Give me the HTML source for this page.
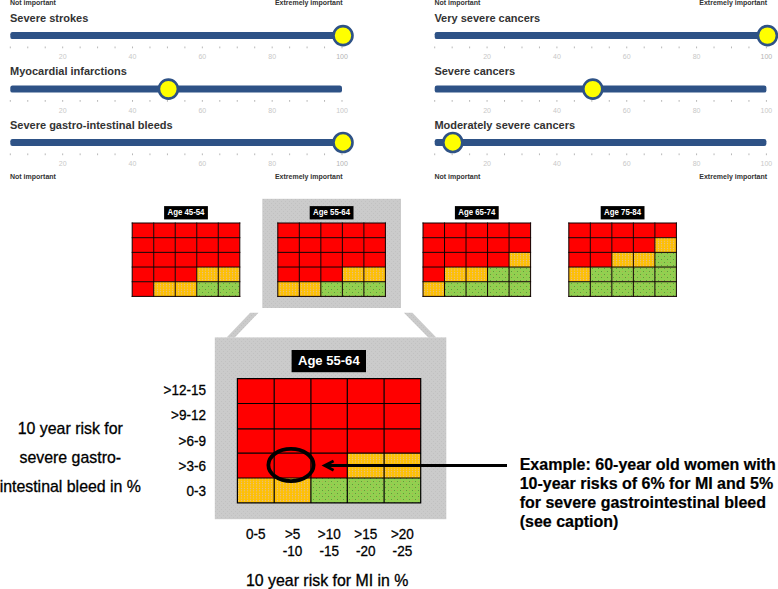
<!DOCTYPE html>
<html><head><meta charset="utf-8"><title>Figure</title>
<style>
html,body{margin:0;padding:0;background:#fff;}
body{width:778px;height:589px;overflow:hidden;font-family:"Liberation Sans",sans-serif;}
svg{display:block;font-family:"Liberation Sans",sans-serif;}
.lab{font-size:11px;font-weight:bold;fill:#333;}
.imp{font-size:7px;font-weight:bold;fill:#333;}
.tk{font-size:7px;fill:#c8c8c8;text-anchor:middle;}
.age{font-size:8.7px;font-weight:bold;fill:#fff;text-anchor:middle;}
.ageb{font-size:13.6px;font-weight:bold;fill:#fff;text-anchor:middle;}
.ax{font-size:14.4px;fill:#000;stroke:#000;stroke-width:0.3px;}
.t16{font-size:15.9px;fill:#000;stroke:#000;stroke-width:0.3px;}
.ex{font-size:16px;font-weight:bold;fill:#000;stroke:#000;stroke-width:0.2px;}
</style></head><body>
<svg width="778" height="589" viewBox="0 0 778 589">
<defs>
<pattern id="pO" width="3" height="2.4" patternUnits="userSpaceOnUse"><rect width="3" height="2.4" fill="#FFC000"/><rect x="0.9" y="0.7" width="1.2" height="1.1" fill="#e2bd98"/></pattern>
<pattern id="pOb" width="3" height="2.4" patternUnits="userSpaceOnUse"><rect width="3" height="2.4" fill="#FFC000"/><rect x="1" y="0.8" width="1" height="0.9" fill="#e6c692"/></pattern>
<pattern id="pG" width="6" height="6" patternUnits="userSpaceOnUse"><rect width="6" height="6" fill="#92D050"/><rect x="1" y="1" width="1" height="1" fill="#5f9a3a"/><rect x="4" y="4" width="1" height="1" fill="#5f9a3a"/><rect x="4" y="1" width="1" height="1" fill="#b0b050"/><rect x="1" y="4" width="1" height="1" fill="#b0b050"/></pattern>
<pattern id="pY" width="4" height="4" patternUnits="userSpaceOnUse"><rect width="4" height="4" fill="#cbcbcb"/><rect x="1" y="1" width="1" height="1" fill="#c1c1c1"/><rect x="3" y="3" width="1" height="1" fill="#c1c1c1"/></pattern>
</defs>
<rect width="778" height="589" fill="#fff"/>

<text class="lab" x="10.0" y="21.8">Severe strokes</text>
<rect x="10.3" y="32.1" width="331.7" height="7" rx="2.2" fill="#2e5286"/>
<rect x="9.80" y="46.5" width="1" height="1.8" fill="#b8b8b8"/>
<rect x="27.26" y="46.5" width="1" height="1.8" fill="#b8b8b8"/>
<rect x="44.72" y="46.5" width="1" height="1.8" fill="#b8b8b8"/>
<rect x="62.17" y="46.5" width="1" height="1.8" fill="#b8b8b8"/>
<rect x="79.63" y="46.5" width="1" height="1.8" fill="#b8b8b8"/>
<rect x="97.09" y="46.5" width="1" height="1.8" fill="#b8b8b8"/>
<rect x="114.55" y="46.5" width="1" height="1.8" fill="#b8b8b8"/>
<rect x="132.01" y="46.5" width="1" height="1.8" fill="#b8b8b8"/>
<rect x="149.46" y="46.5" width="1" height="1.8" fill="#b8b8b8"/>
<rect x="166.92" y="46.5" width="1" height="1.8" fill="#b8b8b8"/>
<rect x="184.38" y="46.5" width="1" height="1.8" fill="#b8b8b8"/>
<rect x="201.84" y="46.5" width="1" height="1.8" fill="#b8b8b8"/>
<rect x="219.29" y="46.5" width="1" height="1.8" fill="#b8b8b8"/>
<rect x="236.75" y="46.5" width="1" height="1.8" fill="#b8b8b8"/>
<rect x="254.21" y="46.5" width="1" height="1.8" fill="#b8b8b8"/>
<rect x="271.67" y="46.5" width="1" height="1.8" fill="#b8b8b8"/>
<rect x="289.13" y="46.5" width="1" height="1.8" fill="#b8b8b8"/>
<rect x="306.58" y="46.5" width="1" height="1.8" fill="#b8b8b8"/>
<rect x="324.04" y="46.5" width="1" height="1.8" fill="#b8b8b8"/>
<rect x="341.50" y="46.5" width="1" height="1.8" fill="#b8b8b8"/>
<text class="tk" x="62.7" y="59.2">20</text>
<text class="tk" x="132.5" y="59.2">40</text>
<text class="tk" x="202.3" y="59.2">60</text>
<text class="tk" x="272.2" y="59.2">80</text>
<text class="tk" x="342.0" y="59.2" style="fill:#b4b4b4">100</text>
<circle cx="343.0" cy="35.6" r="9.5" fill="#ffff00" stroke="#2e5286" stroke-width="2.6"/>
<text class="lab" x="10.0" y="75.3">Myocardial infarctions</text>
<rect x="10.3" y="85.6" width="331.7" height="7" rx="2.2" fill="#2e5286"/>
<rect x="9.80" y="100.0" width="1" height="1.8" fill="#b8b8b8"/>
<rect x="27.26" y="100.0" width="1" height="1.8" fill="#b8b8b8"/>
<rect x="44.72" y="100.0" width="1" height="1.8" fill="#b8b8b8"/>
<rect x="62.17" y="100.0" width="1" height="1.8" fill="#b8b8b8"/>
<rect x="79.63" y="100.0" width="1" height="1.8" fill="#b8b8b8"/>
<rect x="97.09" y="100.0" width="1" height="1.8" fill="#b8b8b8"/>
<rect x="114.55" y="100.0" width="1" height="1.8" fill="#b8b8b8"/>
<rect x="132.01" y="100.0" width="1" height="1.8" fill="#b8b8b8"/>
<rect x="149.46" y="100.0" width="1" height="1.8" fill="#b8b8b8"/>
<rect x="166.92" y="100.0" width="1" height="1.8" fill="#b8b8b8"/>
<rect x="184.38" y="100.0" width="1" height="1.8" fill="#b8b8b8"/>
<rect x="201.84" y="100.0" width="1" height="1.8" fill="#b8b8b8"/>
<rect x="219.29" y="100.0" width="1" height="1.8" fill="#b8b8b8"/>
<rect x="236.75" y="100.0" width="1" height="1.8" fill="#b8b8b8"/>
<rect x="254.21" y="100.0" width="1" height="1.8" fill="#b8b8b8"/>
<rect x="271.67" y="100.0" width="1" height="1.8" fill="#b8b8b8"/>
<rect x="289.13" y="100.0" width="1" height="1.8" fill="#b8b8b8"/>
<rect x="306.58" y="100.0" width="1" height="1.8" fill="#b8b8b8"/>
<rect x="324.04" y="100.0" width="1" height="1.8" fill="#b8b8b8"/>
<rect x="341.50" y="100.0" width="1" height="1.8" fill="#b8b8b8"/>
<text class="tk" x="62.7" y="112.7">20</text>
<text class="tk" x="132.5" y="112.7">40</text>
<text class="tk" x="202.3" y="112.7">60</text>
<text class="tk" x="272.2" y="112.7">80</text>
<text class="tk" x="342.0" y="112.7">100</text>
<circle cx="168.4" cy="89.1" r="9.5" fill="#ffff00" stroke="#2e5286" stroke-width="2.6"/>
<text class="lab" x="10.0" y="128.7">Severe gastro-intestinal bleeds</text>
<rect x="10.3" y="139.0" width="331.7" height="7" rx="2.2" fill="#2e5286"/>
<rect x="9.80" y="153.4" width="1" height="1.8" fill="#b8b8b8"/>
<rect x="27.26" y="153.4" width="1" height="1.8" fill="#b8b8b8"/>
<rect x="44.72" y="153.4" width="1" height="1.8" fill="#b8b8b8"/>
<rect x="62.17" y="153.4" width="1" height="1.8" fill="#b8b8b8"/>
<rect x="79.63" y="153.4" width="1" height="1.8" fill="#b8b8b8"/>
<rect x="97.09" y="153.4" width="1" height="1.8" fill="#b8b8b8"/>
<rect x="114.55" y="153.4" width="1" height="1.8" fill="#b8b8b8"/>
<rect x="132.01" y="153.4" width="1" height="1.8" fill="#b8b8b8"/>
<rect x="149.46" y="153.4" width="1" height="1.8" fill="#b8b8b8"/>
<rect x="166.92" y="153.4" width="1" height="1.8" fill="#b8b8b8"/>
<rect x="184.38" y="153.4" width="1" height="1.8" fill="#b8b8b8"/>
<rect x="201.84" y="153.4" width="1" height="1.8" fill="#b8b8b8"/>
<rect x="219.29" y="153.4" width="1" height="1.8" fill="#b8b8b8"/>
<rect x="236.75" y="153.4" width="1" height="1.8" fill="#b8b8b8"/>
<rect x="254.21" y="153.4" width="1" height="1.8" fill="#b8b8b8"/>
<rect x="271.67" y="153.4" width="1" height="1.8" fill="#b8b8b8"/>
<rect x="289.13" y="153.4" width="1" height="1.8" fill="#b8b8b8"/>
<rect x="306.58" y="153.4" width="1" height="1.8" fill="#b8b8b8"/>
<rect x="324.04" y="153.4" width="1" height="1.8" fill="#b8b8b8"/>
<rect x="341.50" y="153.4" width="1" height="1.8" fill="#b8b8b8"/>
<text class="tk" x="62.7" y="166.1">20</text>
<text class="tk" x="132.5" y="166.1">40</text>
<text class="tk" x="202.3" y="166.1">60</text>
<text class="tk" x="272.2" y="166.1">80</text>
<text class="tk" x="342.0" y="166.1" style="fill:#b4b4b4">100</text>
<circle cx="343.0" cy="142.5" r="9.5" fill="#ffff00" stroke="#2e5286" stroke-width="2.6"/>
<text class="imp" x="10.0" y="4.6">Not important</text>
<text class="imp" x="342.6" y="4.6" text-anchor="end">Extremely important</text>
<text class="imp" x="10.0" y="178.9">Not important</text>
<text class="imp" x="342.6" y="178.9" text-anchor="end">Extremely important</text>
<text class="lab" x="434.4" y="21.8">Very severe cancers</text>
<rect x="434.7" y="32.1" width="331.7" height="7" rx="2.2" fill="#2e5286"/>
<rect x="434.20" y="46.5" width="1" height="1.8" fill="#b8b8b8"/>
<rect x="451.66" y="46.5" width="1" height="1.8" fill="#b8b8b8"/>
<rect x="469.12" y="46.5" width="1" height="1.8" fill="#b8b8b8"/>
<rect x="486.57" y="46.5" width="1" height="1.8" fill="#b8b8b8"/>
<rect x="504.03" y="46.5" width="1" height="1.8" fill="#b8b8b8"/>
<rect x="521.49" y="46.5" width="1" height="1.8" fill="#b8b8b8"/>
<rect x="538.95" y="46.5" width="1" height="1.8" fill="#b8b8b8"/>
<rect x="556.41" y="46.5" width="1" height="1.8" fill="#b8b8b8"/>
<rect x="573.86" y="46.5" width="1" height="1.8" fill="#b8b8b8"/>
<rect x="591.32" y="46.5" width="1" height="1.8" fill="#b8b8b8"/>
<rect x="608.78" y="46.5" width="1" height="1.8" fill="#b8b8b8"/>
<rect x="626.24" y="46.5" width="1" height="1.8" fill="#b8b8b8"/>
<rect x="643.69" y="46.5" width="1" height="1.8" fill="#b8b8b8"/>
<rect x="661.15" y="46.5" width="1" height="1.8" fill="#b8b8b8"/>
<rect x="678.61" y="46.5" width="1" height="1.8" fill="#b8b8b8"/>
<rect x="696.07" y="46.5" width="1" height="1.8" fill="#b8b8b8"/>
<rect x="713.53" y="46.5" width="1" height="1.8" fill="#b8b8b8"/>
<rect x="730.98" y="46.5" width="1" height="1.8" fill="#b8b8b8"/>
<rect x="748.44" y="46.5" width="1" height="1.8" fill="#b8b8b8"/>
<rect x="765.90" y="46.5" width="1" height="1.8" fill="#b8b8b8"/>
<text class="tk" x="487.1" y="59.2">20</text>
<text class="tk" x="556.9" y="59.2">40</text>
<text class="tk" x="626.7" y="59.2">60</text>
<text class="tk" x="696.6" y="59.2">80</text>
<text class="tk" x="766.4" y="59.2" style="fill:#b4b4b4">100</text>
<circle cx="767.4" cy="35.6" r="9.5" fill="#ffff00" stroke="#2e5286" stroke-width="2.6"/>
<text class="lab" x="434.4" y="75.3">Severe cancers</text>
<rect x="434.7" y="85.6" width="331.7" height="7" rx="2.2" fill="#2e5286"/>
<rect x="434.20" y="100.0" width="1" height="1.8" fill="#b8b8b8"/>
<rect x="451.66" y="100.0" width="1" height="1.8" fill="#b8b8b8"/>
<rect x="469.12" y="100.0" width="1" height="1.8" fill="#b8b8b8"/>
<rect x="486.57" y="100.0" width="1" height="1.8" fill="#b8b8b8"/>
<rect x="504.03" y="100.0" width="1" height="1.8" fill="#b8b8b8"/>
<rect x="521.49" y="100.0" width="1" height="1.8" fill="#b8b8b8"/>
<rect x="538.95" y="100.0" width="1" height="1.8" fill="#b8b8b8"/>
<rect x="556.41" y="100.0" width="1" height="1.8" fill="#b8b8b8"/>
<rect x="573.86" y="100.0" width="1" height="1.8" fill="#b8b8b8"/>
<rect x="591.32" y="100.0" width="1" height="1.8" fill="#b8b8b8"/>
<rect x="608.78" y="100.0" width="1" height="1.8" fill="#b8b8b8"/>
<rect x="626.24" y="100.0" width="1" height="1.8" fill="#b8b8b8"/>
<rect x="643.69" y="100.0" width="1" height="1.8" fill="#b8b8b8"/>
<rect x="661.15" y="100.0" width="1" height="1.8" fill="#b8b8b8"/>
<rect x="678.61" y="100.0" width="1" height="1.8" fill="#b8b8b8"/>
<rect x="696.07" y="100.0" width="1" height="1.8" fill="#b8b8b8"/>
<rect x="713.53" y="100.0" width="1" height="1.8" fill="#b8b8b8"/>
<rect x="730.98" y="100.0" width="1" height="1.8" fill="#b8b8b8"/>
<rect x="748.44" y="100.0" width="1" height="1.8" fill="#b8b8b8"/>
<rect x="765.90" y="100.0" width="1" height="1.8" fill="#b8b8b8"/>
<text class="tk" x="487.1" y="112.7">20</text>
<text class="tk" x="556.9" y="112.7">40</text>
<text class="tk" x="626.7" y="112.7">60</text>
<text class="tk" x="696.6" y="112.7">80</text>
<text class="tk" x="766.4" y="112.7">100</text>
<circle cx="592.8" cy="89.1" r="9.5" fill="#ffff00" stroke="#2e5286" stroke-width="2.6"/>
<text class="lab" x="434.4" y="128.7">Moderately severe cancers</text>
<rect x="434.7" y="139.0" width="331.7" height="7" rx="2.2" fill="#2e5286"/>
<rect x="434.20" y="153.4" width="1" height="1.8" fill="#b8b8b8"/>
<rect x="451.66" y="153.4" width="1" height="1.8" fill="#b8b8b8"/>
<rect x="469.12" y="153.4" width="1" height="1.8" fill="#b8b8b8"/>
<rect x="486.57" y="153.4" width="1" height="1.8" fill="#b8b8b8"/>
<rect x="504.03" y="153.4" width="1" height="1.8" fill="#b8b8b8"/>
<rect x="521.49" y="153.4" width="1" height="1.8" fill="#b8b8b8"/>
<rect x="538.95" y="153.4" width="1" height="1.8" fill="#b8b8b8"/>
<rect x="556.41" y="153.4" width="1" height="1.8" fill="#b8b8b8"/>
<rect x="573.86" y="153.4" width="1" height="1.8" fill="#b8b8b8"/>
<rect x="591.32" y="153.4" width="1" height="1.8" fill="#b8b8b8"/>
<rect x="608.78" y="153.4" width="1" height="1.8" fill="#b8b8b8"/>
<rect x="626.24" y="153.4" width="1" height="1.8" fill="#b8b8b8"/>
<rect x="643.69" y="153.4" width="1" height="1.8" fill="#b8b8b8"/>
<rect x="661.15" y="153.4" width="1" height="1.8" fill="#b8b8b8"/>
<rect x="678.61" y="153.4" width="1" height="1.8" fill="#b8b8b8"/>
<rect x="696.07" y="153.4" width="1" height="1.8" fill="#b8b8b8"/>
<rect x="713.53" y="153.4" width="1" height="1.8" fill="#b8b8b8"/>
<rect x="730.98" y="153.4" width="1" height="1.8" fill="#b8b8b8"/>
<rect x="748.44" y="153.4" width="1" height="1.8" fill="#b8b8b8"/>
<rect x="765.90" y="153.4" width="1" height="1.8" fill="#b8b8b8"/>
<text class="tk" x="487.1" y="166.1">20</text>
<text class="tk" x="556.9" y="166.1">40</text>
<text class="tk" x="626.7" y="166.1">60</text>
<text class="tk" x="696.6" y="166.1">80</text>
<text class="tk" x="766.4" y="166.1">100</text>
<circle cx="452.8" cy="142.5" r="9.5" fill="#ffff00" stroke="#2e5286" stroke-width="2.6"/>
<text class="imp" x="434.4" y="4.6">Not important</text>
<text class="imp" x="767.0" y="4.6" text-anchor="end">Extremely important</text>
<text class="imp" x="434.4" y="178.9">Not important</text>
<text class="imp" x="767.0" y="178.9" text-anchor="end">Extremely important</text>
<rect x="262.3" y="198.8" width="138.7" height="109.2" fill="url(#pY)"/>
<rect x="214.8" y="337.4" width="231.5" height="181.8" fill="url(#pY)"/>
<polygon points="250.2,312.7 258.5,312.7 234.8,337.6 226.6,337.6" fill="url(#pY)"/>
<polygon points="403.9,312.7 412.4,312.7 436.3,337.6 428.3,337.6" fill="url(#pY)"/>
<rect x="132.20" y="223.00" width="21.52" height="14.68" fill="#FF0000"/>
<rect x="153.72" y="223.00" width="21.52" height="14.68" fill="#FF0000"/>
<rect x="175.24" y="223.00" width="21.52" height="14.68" fill="#FF0000"/>
<rect x="196.76" y="223.00" width="21.52" height="14.68" fill="#FF0000"/>
<rect x="218.28" y="223.00" width="21.52" height="14.68" fill="#FF0000"/>
<rect x="132.20" y="237.68" width="21.52" height="14.68" fill="#FF0000"/>
<rect x="153.72" y="237.68" width="21.52" height="14.68" fill="#FF0000"/>
<rect x="175.24" y="237.68" width="21.52" height="14.68" fill="#FF0000"/>
<rect x="196.76" y="237.68" width="21.52" height="14.68" fill="#FF0000"/>
<rect x="218.28" y="237.68" width="21.52" height="14.68" fill="#FF0000"/>
<rect x="132.20" y="252.36" width="21.52" height="14.68" fill="#FF0000"/>
<rect x="153.72" y="252.36" width="21.52" height="14.68" fill="#FF0000"/>
<rect x="175.24" y="252.36" width="21.52" height="14.68" fill="#FF0000"/>
<rect x="196.76" y="252.36" width="21.52" height="14.68" fill="#FF0000"/>
<rect x="218.28" y="252.36" width="21.52" height="14.68" fill="#FF0000"/>
<rect x="132.20" y="267.04" width="21.52" height="14.68" fill="#FF0000"/>
<rect x="153.72" y="267.04" width="21.52" height="14.68" fill="#FF0000"/>
<rect x="175.24" y="267.04" width="21.52" height="14.68" fill="#FF0000"/>
<rect x="196.76" y="267.04" width="21.52" height="14.68" fill="url(#pO)"/>
<rect x="218.28" y="267.04" width="21.52" height="14.68" fill="url(#pO)"/>
<rect x="132.20" y="281.72" width="21.52" height="14.68" fill="#FF0000"/>
<rect x="153.72" y="281.72" width="21.52" height="14.68" fill="url(#pO)"/>
<rect x="175.24" y="281.72" width="21.52" height="14.68" fill="url(#pO)"/>
<rect x="196.76" y="281.72" width="21.52" height="14.68" fill="url(#pG)"/>
<rect x="218.28" y="281.72" width="21.52" height="14.68" fill="url(#pG)"/>
<path d="M132.20,223.00V296.40M132.20,223.00H239.80M153.72,223.00V296.40M132.20,237.68H239.80M175.24,223.00V296.40M132.20,252.36H239.80M196.76,223.00V296.40M132.20,267.04H239.80M218.28,223.00V296.40M132.20,281.72H239.80M239.80,223.00V296.40M132.20,296.40H239.80" stroke="#100000" stroke-width="1.0" fill="none" stroke-linecap="square"/>
<rect x="164.1" y="206.1" width="43.8" height="13.3" fill="#000"/>
<text class="age" transform="translate(186.0,215.4) scale(0.9,1)" x="0" y="0">Age 45-54</text>
<rect x="277.80" y="223.00" width="21.52" height="14.68" fill="#FF0000"/>
<rect x="299.32" y="223.00" width="21.52" height="14.68" fill="#FF0000"/>
<rect x="320.84" y="223.00" width="21.52" height="14.68" fill="#FF0000"/>
<rect x="342.36" y="223.00" width="21.52" height="14.68" fill="#FF0000"/>
<rect x="363.88" y="223.00" width="21.52" height="14.68" fill="#FF0000"/>
<rect x="277.80" y="237.68" width="21.52" height="14.68" fill="#FF0000"/>
<rect x="299.32" y="237.68" width="21.52" height="14.68" fill="#FF0000"/>
<rect x="320.84" y="237.68" width="21.52" height="14.68" fill="#FF0000"/>
<rect x="342.36" y="237.68" width="21.52" height="14.68" fill="#FF0000"/>
<rect x="363.88" y="237.68" width="21.52" height="14.68" fill="#FF0000"/>
<rect x="277.80" y="252.36" width="21.52" height="14.68" fill="#FF0000"/>
<rect x="299.32" y="252.36" width="21.52" height="14.68" fill="#FF0000"/>
<rect x="320.84" y="252.36" width="21.52" height="14.68" fill="#FF0000"/>
<rect x="342.36" y="252.36" width="21.52" height="14.68" fill="#FF0000"/>
<rect x="363.88" y="252.36" width="21.52" height="14.68" fill="#FF0000"/>
<rect x="277.80" y="267.04" width="21.52" height="14.68" fill="#FF0000"/>
<rect x="299.32" y="267.04" width="21.52" height="14.68" fill="#FF0000"/>
<rect x="320.84" y="267.04" width="21.52" height="14.68" fill="#FF0000"/>
<rect x="342.36" y="267.04" width="21.52" height="14.68" fill="url(#pO)"/>
<rect x="363.88" y="267.04" width="21.52" height="14.68" fill="url(#pO)"/>
<rect x="277.80" y="281.72" width="21.52" height="14.68" fill="url(#pO)"/>
<rect x="299.32" y="281.72" width="21.52" height="14.68" fill="url(#pO)"/>
<rect x="320.84" y="281.72" width="21.52" height="14.68" fill="url(#pG)"/>
<rect x="342.36" y="281.72" width="21.52" height="14.68" fill="url(#pG)"/>
<rect x="363.88" y="281.72" width="21.52" height="14.68" fill="url(#pG)"/>
<path d="M277.80,223.00V296.40M277.80,223.00H385.40M299.32,223.00V296.40M277.80,237.68H385.40M320.84,223.00V296.40M277.80,252.36H385.40M342.36,223.00V296.40M277.80,267.04H385.40M363.88,223.00V296.40M277.80,281.72H385.40M385.40,223.00V296.40M277.80,296.40H385.40" stroke="#100000" stroke-width="1.0" fill="none" stroke-linecap="square"/>
<rect x="309.7" y="206.1" width="43.8" height="13.3" fill="#000"/>
<text class="age" transform="translate(331.6,215.4) scale(0.9,1)" x="0" y="0">Age 55-64</text>
<rect x="423.00" y="223.00" width="21.52" height="14.68" fill="#FF0000"/>
<rect x="444.52" y="223.00" width="21.52" height="14.68" fill="#FF0000"/>
<rect x="466.04" y="223.00" width="21.52" height="14.68" fill="#FF0000"/>
<rect x="487.56" y="223.00" width="21.52" height="14.68" fill="#FF0000"/>
<rect x="509.08" y="223.00" width="21.52" height="14.68" fill="#FF0000"/>
<rect x="423.00" y="237.68" width="21.52" height="14.68" fill="#FF0000"/>
<rect x="444.52" y="237.68" width="21.52" height="14.68" fill="#FF0000"/>
<rect x="466.04" y="237.68" width="21.52" height="14.68" fill="#FF0000"/>
<rect x="487.56" y="237.68" width="21.52" height="14.68" fill="#FF0000"/>
<rect x="509.08" y="237.68" width="21.52" height="14.68" fill="#FF0000"/>
<rect x="423.00" y="252.36" width="21.52" height="14.68" fill="#FF0000"/>
<rect x="444.52" y="252.36" width="21.52" height="14.68" fill="#FF0000"/>
<rect x="466.04" y="252.36" width="21.52" height="14.68" fill="#FF0000"/>
<rect x="487.56" y="252.36" width="21.52" height="14.68" fill="#FF0000"/>
<rect x="509.08" y="252.36" width="21.52" height="14.68" fill="url(#pO)"/>
<rect x="423.00" y="267.04" width="21.52" height="14.68" fill="#FF0000"/>
<rect x="444.52" y="267.04" width="21.52" height="14.68" fill="url(#pO)"/>
<rect x="466.04" y="267.04" width="21.52" height="14.68" fill="url(#pO)"/>
<rect x="487.56" y="267.04" width="21.52" height="14.68" fill="url(#pG)"/>
<rect x="509.08" y="267.04" width="21.52" height="14.68" fill="url(#pG)"/>
<rect x="423.00" y="281.72" width="21.52" height="14.68" fill="url(#pO)"/>
<rect x="444.52" y="281.72" width="21.52" height="14.68" fill="url(#pG)"/>
<rect x="466.04" y="281.72" width="21.52" height="14.68" fill="url(#pG)"/>
<rect x="487.56" y="281.72" width="21.52" height="14.68" fill="url(#pG)"/>
<rect x="509.08" y="281.72" width="21.52" height="14.68" fill="url(#pG)"/>
<path d="M423.00,223.00V296.40M423.00,223.00H530.60M444.52,223.00V296.40M423.00,237.68H530.60M466.04,223.00V296.40M423.00,252.36H530.60M487.56,223.00V296.40M423.00,267.04H530.60M509.08,223.00V296.40M423.00,281.72H530.60M530.60,223.00V296.40M423.00,296.40H530.60" stroke="#100000" stroke-width="1.0" fill="none" stroke-linecap="square"/>
<rect x="454.9" y="206.1" width="43.8" height="13.3" fill="#000"/>
<text class="age" transform="translate(476.8,215.4) scale(0.9,1)" x="0" y="0">Age 65-74</text>
<rect x="568.80" y="223.00" width="21.52" height="14.68" fill="#FF0000"/>
<rect x="590.32" y="223.00" width="21.52" height="14.68" fill="#FF0000"/>
<rect x="611.84" y="223.00" width="21.52" height="14.68" fill="#FF0000"/>
<rect x="633.36" y="223.00" width="21.52" height="14.68" fill="#FF0000"/>
<rect x="654.88" y="223.00" width="21.52" height="14.68" fill="#FF0000"/>
<rect x="568.80" y="237.68" width="21.52" height="14.68" fill="#FF0000"/>
<rect x="590.32" y="237.68" width="21.52" height="14.68" fill="#FF0000"/>
<rect x="611.84" y="237.68" width="21.52" height="14.68" fill="#FF0000"/>
<rect x="633.36" y="237.68" width="21.52" height="14.68" fill="#FF0000"/>
<rect x="654.88" y="237.68" width="21.52" height="14.68" fill="url(#pO)"/>
<rect x="568.80" y="252.36" width="21.52" height="14.68" fill="#FF0000"/>
<rect x="590.32" y="252.36" width="21.52" height="14.68" fill="#FF0000"/>
<rect x="611.84" y="252.36" width="21.52" height="14.68" fill="url(#pO)"/>
<rect x="633.36" y="252.36" width="21.52" height="14.68" fill="url(#pO)"/>
<rect x="654.88" y="252.36" width="21.52" height="14.68" fill="url(#pG)"/>
<rect x="568.80" y="267.04" width="21.52" height="14.68" fill="url(#pO)"/>
<rect x="590.32" y="267.04" width="21.52" height="14.68" fill="url(#pG)"/>
<rect x="611.84" y="267.04" width="21.52" height="14.68" fill="url(#pG)"/>
<rect x="633.36" y="267.04" width="21.52" height="14.68" fill="url(#pG)"/>
<rect x="654.88" y="267.04" width="21.52" height="14.68" fill="url(#pG)"/>
<rect x="568.80" y="281.72" width="21.52" height="14.68" fill="url(#pG)"/>
<rect x="590.32" y="281.72" width="21.52" height="14.68" fill="url(#pG)"/>
<rect x="611.84" y="281.72" width="21.52" height="14.68" fill="url(#pG)"/>
<rect x="633.36" y="281.72" width="21.52" height="14.68" fill="url(#pG)"/>
<rect x="654.88" y="281.72" width="21.52" height="14.68" fill="url(#pG)"/>
<path d="M568.80,223.00V296.40M568.80,223.00H676.40M590.32,223.00V296.40M568.80,237.68H676.40M611.84,223.00V296.40M568.80,252.36H676.40M633.36,223.00V296.40M568.80,267.04H676.40M654.88,223.00V296.40M568.80,281.72H676.40M676.40,223.00V296.40M568.80,296.40H676.40" stroke="#100000" stroke-width="1.0" fill="none" stroke-linecap="square"/>
<rect x="600.7" y="206.1" width="43.8" height="13.3" fill="#000"/>
<text class="age" transform="translate(622.6,215.4) scale(0.9,1)" x="0" y="0">Age 75-84</text>
<rect x="237.40" y="378.60" width="36.80" height="24.90" fill="#FF0000"/>
<rect x="274.20" y="378.60" width="36.70" height="24.90" fill="#FF0000"/>
<rect x="310.90" y="378.60" width="36.40" height="24.90" fill="#FF0000"/>
<rect x="347.30" y="378.60" width="36.80" height="24.90" fill="#FF0000"/>
<rect x="384.10" y="378.60" width="36.60" height="24.90" fill="#FF0000"/>
<rect x="237.40" y="403.50" width="36.80" height="25.30" fill="#FF0000"/>
<rect x="274.20" y="403.50" width="36.70" height="25.30" fill="#FF0000"/>
<rect x="310.90" y="403.50" width="36.40" height="25.30" fill="#FF0000"/>
<rect x="347.30" y="403.50" width="36.80" height="25.30" fill="#FF0000"/>
<rect x="384.10" y="403.50" width="36.60" height="25.30" fill="#FF0000"/>
<rect x="237.40" y="428.80" width="36.80" height="24.30" fill="#FF0000"/>
<rect x="274.20" y="428.80" width="36.70" height="24.30" fill="#FF0000"/>
<rect x="310.90" y="428.80" width="36.40" height="24.30" fill="#FF0000"/>
<rect x="347.30" y="428.80" width="36.80" height="24.30" fill="#FF0000"/>
<rect x="384.10" y="428.80" width="36.60" height="24.30" fill="#FF0000"/>
<rect x="237.40" y="453.10" width="36.80" height="24.90" fill="#FF0000"/>
<rect x="274.20" y="453.10" width="36.70" height="24.90" fill="#FF0000"/>
<rect x="310.90" y="453.10" width="36.40" height="24.90" fill="#FF0000"/>
<rect x="347.30" y="453.10" width="36.80" height="24.90" fill="url(#pO)"/>
<rect x="384.10" y="453.10" width="36.60" height="24.90" fill="url(#pO)"/>
<rect x="237.40" y="478.00" width="36.80" height="24.90" fill="url(#pO)"/>
<rect x="274.20" y="478.00" width="36.70" height="24.90" fill="url(#pO)"/>
<rect x="310.90" y="478.00" width="36.40" height="24.90" fill="url(#pG)"/>
<rect x="347.30" y="478.00" width="36.80" height="24.90" fill="url(#pG)"/>
<rect x="384.10" y="478.00" width="36.60" height="24.90" fill="url(#pG)"/>
<path d="M237.40,378.60V502.90M237.40,378.60H420.70M274.20,378.60V502.90M237.40,403.50H420.70M310.90,378.60V502.90M237.40,428.80H420.70M347.30,378.60V502.90M237.40,453.10H420.70M384.10,378.60V502.90M237.40,478.00H420.70M420.70,378.60V502.90M237.40,502.90H420.70" stroke="#000" stroke-width="1.2" fill="none" stroke-linecap="square"/>
<rect x="291.6" y="350" width="74.4" height="22.2" fill="#000"/>
<text class="ageb" transform="translate(328.8,365.0) scale(0.96,1)" x="0" y="0">Age 55-64</text>
<ellipse cx="291" cy="465.0" rx="22.6" ry="16.1" fill="none" stroke="#000" stroke-width="3.8"/>
<path d="M325.5,465.6H507" stroke="#000" stroke-width="3" fill="none"/>
<path d="M333.6,461.0L324.6,465.6L333.6,470.2" stroke="#000" stroke-width="2.8" fill="none" stroke-linejoin="miter"/>
<text class="ax" transform="translate(206.0,394.7) scale(0.94,1)" text-anchor="end">&gt;12-15</text>
<text class="ax" transform="translate(206.0,420.0) scale(0.94,1)" text-anchor="end">&gt;9-12</text>
<text class="ax" transform="translate(206.0,445.5) scale(0.94,1)" text-anchor="end">&gt;6-9</text>
<text class="ax" transform="translate(206.0,470.9) scale(0.94,1)" text-anchor="end">&gt;3-6</text>
<text class="ax" transform="translate(206.0,496.4) scale(0.94,1)" text-anchor="end">0-3</text>
<text class="ax" transform="translate(255.8,539.4) scale(0.94,1)" text-anchor="middle">0-5</text>
<text class="ax" transform="translate(292.6,539.4) scale(0.94,1)" text-anchor="middle">&gt;5</text>
<text class="ax" transform="translate(292.6,556.2) scale(0.94,1)" text-anchor="middle">-10</text>
<text class="ax" transform="translate(329.2,539.4) scale(0.94,1)" text-anchor="middle">&gt;10</text>
<text class="ax" transform="translate(329.2,556.2) scale(0.94,1)" text-anchor="middle">-15</text>
<text class="ax" transform="translate(365.8,539.4) scale(0.94,1)" text-anchor="middle">&gt;15</text>
<text class="ax" transform="translate(365.8,556.2) scale(0.94,1)" text-anchor="middle">-20</text>
<text class="ax" transform="translate(402.4,539.4) scale(0.94,1)" text-anchor="middle">&gt;20</text>
<text class="ax" transform="translate(402.4,556.2) scale(0.94,1)" text-anchor="middle">-25</text>
<text class="t16" x="327.2" y="585.6" text-anchor="middle">10 year risk for MI in %</text>
<text class="t16" x="70.3" y="434.2" text-anchor="middle">10 year risk for</text>
<text class="t16" x="70.3" y="463.2" text-anchor="middle">severe gastro-</text>
<text class="t16" x="70.3" y="491.9" text-anchor="middle">intestinal bleed in %</text>
<text class="ex" x="519.7" y="469.7">Example: 60-year old women with</text>
<text class="ex" x="519.7" y="488.9">10-year risks of 6% for MI and 5%</text>
<text class="ex" x="519.7" y="508.0">for severe gastrointestinal bleed</text>
<text class="ex" x="519.7" y="527.1">(see caption)</text>
</svg></body></html>
